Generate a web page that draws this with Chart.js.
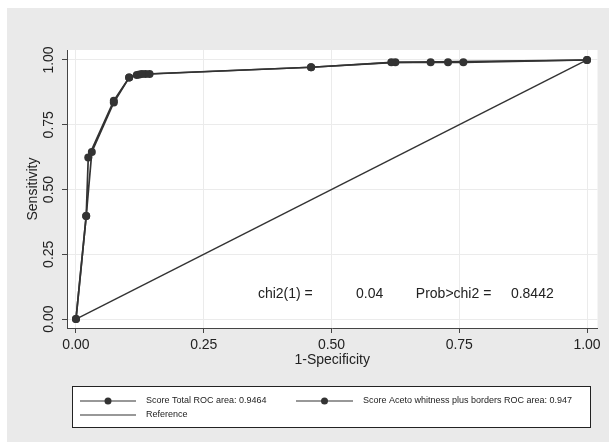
<!DOCTYPE html>
<html>
<head>
<meta charset="utf-8">
<script src="https://cdn.jsdelivr.net/npm/chart.js@4.4.1/dist/chart.umd.min.js"></script>
<style>
html,body{margin:0;padding:0;background:#fff;}
#wrap{width:609px;height:442px;position:relative;}
</style>
</head>
<body>
<div id="wrap"><canvas id="c" width="609" height="442"></canvas></div>
<script>
// ---- data ----
const seriesLabels = ["Score Total ROC area: 0.9464", "Score Aceto whitness plus borders ROC area: 0.947", "Reference"];
const fprTotal = [0, 0.020, 0.024, 0.074, 0.104, 0.119, 0.129, 0.144, 0.460, 0.617, 0.694, 0.728, 0.758, 1.0];
const tprTotal = [0, 0.398, 0.624, 0.843, 0.932, 0.942, 0.946, 0.946, 0.972, 0.991, 0.991, 0.991, 0.991, 1.0];
const fprAceto = [0, 0.020, 0.031, 0.074, 0.104, 0.124, 0.136, 0.460, 0.625, 1.0];
const tprAceto = [0, 0.398, 0.645, 0.836, 0.932, 0.944, 0.946, 0.972, 0.991, 1.0];
const refX = [0, 1];
const refY = [0, 1];
const tickValues = [0, 0.25, 0.5, 0.75, 1];
const xTitle = "1-Specificity";
const yTitle = "Sensitivity";
const statTexts = [
  {text: "chi2(1) =", x: 0.356},
  {text: "0.04", x: 0.548},
  {text: "Prob>chi2 =", x: 0.665},
  {text: "0.8442", x: 0.851}
];
const statY = 0.0965;

const toPts = (xs, ys) => xs.map((v, i) => ({x: v, y: ys[i]}));
const FONT = "'Liberation Sans', Arial, sans-serif";
const DARK = '#333333';

const bgPlugin = {
  id: 'bg',
  beforeDraw(chart) {
    const ctx = chart.ctx, a = chart.chartArea;
    ctx.save();
    ctx.fillStyle = '#ffffff';
    ctx.fillRect(0, 0, chart.width, chart.height);
    ctx.fillStyle = '#eaeaea';
    ctx.fillRect(7, 8, chart.width - 7, chart.height - 8);
    ctx.fillStyle = '#ffffff';
    ctx.fillRect(a.left, a.top, a.right - a.left, a.bottom - a.top);
    ctx.restore();
  },
  afterDraw(chart) {
    const ctx = chart.ctx;
    const xs = chart.scales.x, ys = chart.scales.y;
    ctx.save();
    ctx.fillStyle = '#222';
    ctx.font = "14px " + FONT;
    ctx.textAlign = 'center';
    ctx.textBaseline = 'middle';
    ys.ticks.forEach(t => {
      const py = ys.getPixelForValue(t.value);
      ctx.save();
      ctx.translate(49, py);
      ctx.rotate(-Math.PI / 2);
      ctx.fillText(t.value.toFixed(2), 0, 0);
      ctx.restore();
    });
    ctx.textAlign = 'left';
    statTexts.forEach(s => {
      ctx.fillText(s.text, xs.getPixelForValue(s.x), ys.getPixelForValue(statY));
    });
    const L = 72, T = 386, R = 591, B = 428;
    ctx.fillStyle = '#ffffff';
    ctx.fillRect(L, T, R - L, B - T);
    ctx.strokeStyle = '#222';
    ctx.lineWidth = 1;
    ctx.strokeRect(L + 0.5, T + 0.5, R - L - 1, B - T - 1);
    const items = [
      {x0: 80, x1: 136, y: 401, marker: true, label: seriesLabels[0]},
      {x0: 296, x1: 353, y: 401, marker: true, label: seriesLabels[1]},
      {x0: 80, x1: 136, y: 415, marker: false, label: seriesLabels[2]}
    ];
    ctx.font = "9px " + FONT;
    ctx.textBaseline = 'middle';
    items.forEach(it => {
      ctx.strokeStyle = DARK;
      ctx.lineWidth = 1.2;
      ctx.beginPath();
      ctx.moveTo(it.x0, it.y);
      ctx.lineTo(it.x1, it.y);
      ctx.stroke();
      if (it.marker) {
        ctx.fillStyle = DARK;
        ctx.beginPath();
        ctx.arc((it.x0 + it.x1) / 2, it.y, 3.5, 0, Math.PI * 2);
        ctx.fill();
      }
      ctx.fillStyle = '#222';
      ctx.fillText(it.label, it.x1 + 10, it.y);
    });
    ctx.restore();
  }
};

new Chart(document.getElementById('c'), {
  type: 'scatter',
  data: {
    datasets: [
      {label: seriesLabels[2], data: toPts(refX, refY), showLine: true, borderColor: DARK, borderWidth: 1.4, pointRadius: 0, order: 3},
      {label: seriesLabels[1], data: toPts(fprAceto, tprAceto), showLine: true, borderColor: DARK, borderWidth: 1.7, pointRadius: 4, pointBackgroundColor: DARK, pointBorderWidth: 0, order: 2},
      {label: seriesLabels[0], data: toPts(fprTotal, tprTotal), showLine: true, borderColor: DARK, borderWidth: 1.7, pointRadius: 4, pointBackgroundColor: DARK, pointBorderWidth: 0, order: 1}
    ]
  },
  options: {
    responsive: false,
    animation: false,
    events: [],
    layout: {padding: {left: 0, top: 50, right: 11.5, bottom: 69}},
    plugins: {legend: {display: false}, tooltip: {enabled: false}},
    scales: {
      x: {
        type: 'linear', min: -0.0176, max: 1.0205,
        afterBuildTicks: s => { s.ticks = tickValues.map(v => ({value: v})); },
        afterFit: s => { s.height = 45; },
        grid: {color: '#ebebeb', tickColor: '#444', tickLength: 5, lineWidth: 1},
        border: {color: '#444', width: 1},
        ticks: {color: '#222', font: {size: 14, family: FONT}, padding: 4, maxRotation: 0,
                callback: v => Number(v).toFixed(2)},
        title: {display: true, text: xTitle, color: '#222', font: {size: 14, family: FONT}, padding: {top: 0, bottom: 4}}
      },
      y: {
        type: 'linear', min: -0.0347, max: 1.0386,
        afterBuildTicks: s => { s.ticks = tickValues.map(v => ({value: v})); },
        afterFit: s => { s.width = 67; },
        grid: {color: '#ebebeb', tickColor: '#444', tickLength: 5, lineWidth: 1},
        border: {color: '#444', width: 1},
        ticks: {display: false},
        title: {display: true, text: yTitle, color: '#222', font: {size: 14, family: FONT}, padding: {top: 25, bottom: 0}}
      }
    }
  },
  plugins: [bgPlugin]
});
</script>
</body>
</html>
